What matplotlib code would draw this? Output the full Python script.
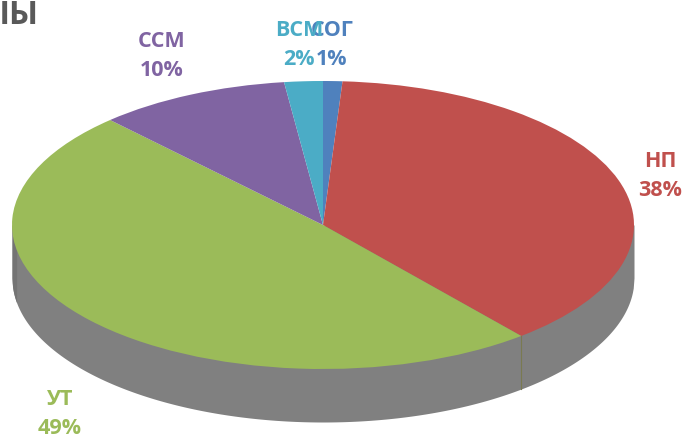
import numpy as np
import matplotlib
matplotlib.use("Agg")
import matplotlib.pyplot as plt

categories = ["СОГ", "НП", "УТ", "ССМ", "ВСМ"]
values = [1, 38, 49, 10, 2]
labels_pct = ["1%", "38%", "49%", "10%", "2%"]
colors = ["#4F81BD", "#C0504D", "#9BBB59", "#8064A2", "#4BACC6"]

W, H = 686, 440
cx, cy, rx, ry = 323, 225, 311, 144
depth = 53 / ry

fig = plt.figure(figsize=(W / 100, H / 100), dpi=100)
ax = fig.add_axes([0, 0, 1, 1])

def px(x, y):
    return (x - cx) / rx, (cy - y) / ry

# side of the 3D disc
xs = np.linspace(-1, 1, 800)
lower = -np.sqrt(np.clip(1 - xs ** 2, 0, None))
ax.fill_between(xs, lower - depth, 0, color="#808080", lw=0, zorder=1)
xl = np.linspace(-1, -0.985, 30)
ll = -np.sqrt(np.clip(1 - xl ** 2, 0, None))
ax.fill_between(xl, ll - depth, 0, color="#747474", lw=0, zorder=1.1)

# thin boundary line on side at НП/УТ edge
ang = np.deg2rad(90 - 360 * (values[0] + values[1]) / sum(values))
bx, by = np.cos(ang), np.sin(ang)
ax.plot([bx, bx], [by, by - depth], color="#7A7A50", lw=0.8, zorder=1.2)

wedges, _ = ax.pie(values, colors=colors, startangle=90, counterclock=False,
                   radius=1, center=(0, 0), frame=True,
                   wedgeprops=dict(linewidth=0, zorder=2))
ax.set_xlim((0 - cx) / rx, (W - cx) / rx)
ax.set_ylim((cy - H) / ry, (cy - 0) / ry)
ax.set_aspect("auto")
ax.axis("off")

font = ["Open Sans", "DejaVu Sans"]
label_pos = {
    "СОГ": (332, 45), "НП": (660, 176), "УТ": (60, 414),
    "ССМ": (162, 56), "ВСМ": (299, 45),
}
for cat, pct, col in zip(categories, labels_pct, colors):
    x, y = label_pos[cat]
    X, Y = px(x, y)
    ax.text(X, Y, cat + "\n" + pct, color=col, fontsize=15.5, fontweight="bold",
            family=font, ha="center", va="center", linespacing=1.55, zorder=5)

# cut-off title at top-left
X, Y = px(-20, 16)
ax.text(X, Y, "ЫЫ", color="#595959", fontsize=23, fontweight="bold", family=font,
        ha="left", va="center", zorder=5)

fig.savefig("out.png", dpi=100)
